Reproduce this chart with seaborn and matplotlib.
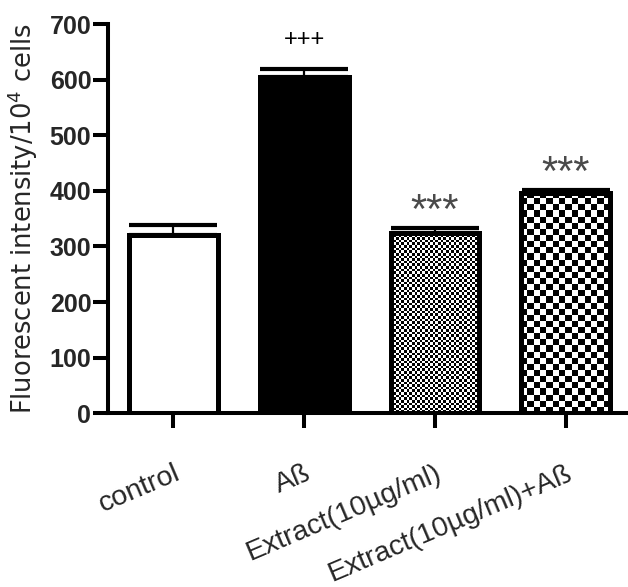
import numpy as np
import pandas as pd
import matplotlib
matplotlib.use("Agg")
import matplotlib.pyplot as plt
import seaborn as sns
from matplotlib import font_manager

# Group names, mean fluorescence and SEM
categories = ["control", "Aß", "Extract(10µg/ml)", "Extract(10µg/ml)+Aß"]
means = [320, 605, 324, 396]
sems = [18, 15, 9, 5]
marks = ["", "+++", "***", "***"]
yticks = [0, 100, 200, 300, 400, 500, 600, 700]

sns.set_theme(style="white")
names = {f.name for f in font_manager.fontManager.ttflist}
narrow = "Liberation Sans Narrow" if "Liberation Sans Narrow" in names else "Liberation Sans"
plt.rcParams["font.family"] = ["Liberation Sans", "DejaVu Sans"]

fig = plt.figure(figsize=(6.28, 5.87), dpi=100)
ax = fig.add_axes([0.172, 0.296, 0.833, 0.663])

df = pd.DataFrame({"group": categories, "value": means})
faces = ["white", "black", (0, 0, 0, 0), (0, 0, 0, 0)]
sns.barplot(data=df, x="group", y="value", hue="group", palette=faces,
            order=categories, hue_order=categories, legend=False,
            width=0.68, edgecolor="black", linewidth=3.6, saturation=1,
            ax=ax)

ax.set_xlim(-0.5, 3.5)
ax.set_ylim(0, 700)

# Checkerboard fills for the extract groups (cell size in pixels)
fig.canvas.draw()
cells = {2: 2.6, 3: 6.2}
for idx, cell in cells.items():
    bar = ax.patches[idx]
    bb = bar.get_window_extent()
    nx = max(1, int(round(bb.width / cell)))
    ny = max(1, int(round(bb.height / cell)))
    yy, xx = np.mgrid[0:ny, 0:nx]
    board = ((xx + yy) % 2).astype(float)
    x0, y0 = bar.get_x(), bar.get_y()
    im = ax.imshow(board, cmap="gray", vmin=0, vmax=1, interpolation="nearest",
                   extent=[x0, x0 + bar.get_width(), y0, y0 + bar.get_height()],
                   origin="lower", aspect="auto", zorder=0.5)
    im.set_clip_path(bar)
ax.set_xlim(-0.5, 3.5)
ax.set_ylim(0, 700)

# Upper SEM whiskers
xpos = np.arange(len(categories))
ax.errorbar(xpos, means, yerr=[np.zeros(len(sems)), sems], fmt="none",
            ecolor="black", elinewidth=1.6, capsize=32, capthick=3.0, zorder=3)

# Significance marks above the whiskers
for x, m, s, mk in zip(xpos, means, sems, marks):
    if not mk:
        continue
    if mk == "+++":
        ax.text(x, m + s + 40, mk, ha="center", va="baseline",
                fontsize=17, color="black")
    else:
        ax.text(x, m + s + 10, mk, ha="center", va="baseline",
                fontsize=30, color="#4a4a4a")

sns.despine(ax=ax)
for side in ["left", "bottom"]:
    ax.spines[side].set_linewidth(2.9)
    ax.spines[side].set_color("black")

ax.set_yticks(yticks)
ax.set_yticklabels([str(t) for t in yticks], fontfamily=narrow,
                   fontweight="bold", fontsize=18)
ax.tick_params(axis="both", which="both", direction="out", length=11,
               width=2.9, color="black", left=True, bottom=True)
ax.tick_params(axis="y", pad=1)
ax.tick_params(axis="x", pad=23)
ax.set_xticks(xpos)
ax.set_xticklabels(categories, rotation=23, ha="right",
                   rotation_mode="anchor", fontsize=20.5)

ax.set_xlabel("")
ax.set_ylabel("Fluorescent intensity/10$^4$ cells", fontsize=18.5,
              fontfamily=["DejaVu Sans"], labelpad=7)

fig.savefig("out.png", dpi=100)
